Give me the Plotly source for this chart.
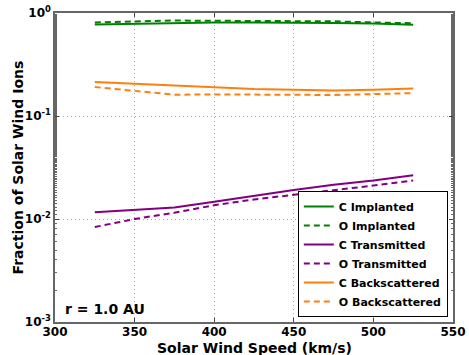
import plotly.graph_objects as go

speed = [325, 350, 375, 400, 425, 450, 475, 500, 525]
c_implanted = [0.775, 0.79, 0.80, 0.81, 0.81, 0.81, 0.80, 0.79, 0.77]
o_implanted = [0.81, 0.83, 0.845, 0.84, 0.84, 0.835, 0.83, 0.81, 0.795]
c_transmitted = [0.0116, 0.0123, 0.0129, 0.0147, 0.0168, 0.0191, 0.0215, 0.0236, 0.0266]
o_transmitted = [0.00835, 0.0100, 0.0115, 0.0136, 0.0155, 0.0171, 0.0190, 0.0211, 0.0236]
c_backscattered = [0.214, 0.205, 0.198, 0.19, 0.183, 0.18, 0.177, 0.18, 0.185]
o_backscattered = [0.191, 0.175, 0.161, 0.162, 0.162, 0.162, 0.16, 0.163, 0.167]

xticks = [300, 350, 400, 450, 500, 550]
yticks = [1e-3, 1e-2, 1e-1, 1]
yticklabels = ["10<sup>-3</sup>", "10<sup>-2</sup>", "10<sup>-1</sup>", "10<sup>0</sup>"]

GREEN = "#008000"
PURPLE = "#800080"
ORANGE = "#FF7F0E"

series = [
    ("C Implanted", c_implanted, GREEN, "solid"),
    ("O Implanted", o_implanted, GREEN, "6px,4px"),
    ("C Transmitted", c_transmitted, PURPLE, "solid"),
    ("O Transmitted", o_transmitted, PURPLE, "6px,4px"),
    ("C Backscattered", c_backscattered, ORANGE, "solid"),
    ("O Backscattered", o_backscattered, ORANGE, "6px,4px"),
]

fig = go.Figure()
for name, vals, col, dash in series:
    fig.add_trace(go.Scatter(x=speed, y=vals, mode="lines", name=name,
                             line=dict(color=col, width=2, dash=dash)))

fig.update_layout(
    width=469, height=355,
    margin=dict(l=55, r=16, t=13, b=33, autoexpand=False),
    plot_bgcolor="white", paper_bgcolor="white",
    font=dict(family="DejaVu Sans", size=11, color="black", weight="bold"),
    showlegend=True,
    legend=dict(x=0.987, y=0.016, xanchor="right", yanchor="bottom",
                bordercolor="black", borderwidth=1, bgcolor="white",
                font=dict(size=11, weight="bold"), tracegroupgap=0,
                itemwidth=30),
    xaxis=dict(range=[300, 550], tickvals=xticks, ticks="inside", ticklen=4,
               showline=True, mirror="allticks", linecolor="#666", linewidth=1.5,
               showgrid=True, gridcolor="#aaa", griddash="1px,3px", gridwidth=1,
               zeroline=False, automargin=False, ticklabelstandoff=-2,
               tickfont=dict(size=12, weight="bold")),
    yaxis=dict(type="log", range=[-3, 0], tickvals=yticks, ticktext=yticklabels,
               ticks="inside", ticklen=4,
               showline=True, mirror="allticks", linecolor="#666", linewidth=1.5,
               showgrid=True, gridcolor="#aaa", griddash="1px,3px", gridwidth=1,
               zeroline=False, automargin=False,
               minor=dict(ticks="inside", ticklen=2, tickcolor="#666", showgrid=False),
               tickfont=dict(size=12, weight="bold")),
)
fig.add_annotation(x=0.5, y=-0.085, xref="paper", yref="paper",
                   xanchor="center", yanchor="middle", showarrow=False,
                   text="Solar Wind Speed (km/s)", font=dict(size=14, weight="bold"))
fig.add_annotation(x=-0.093, y=0.5, xref="paper", yref="paper",
                   xanchor="center", yanchor="middle", showarrow=False, textangle=-90,
                   text="Fraction of Solar Wind Ions", font=dict(size=14, weight="bold"))
fig.add_annotation(x=0.02, y=0.01, xref="paper", yref="paper",
                   xanchor="left", yanchor="bottom", showarrow=False,
                   text="r = 1.0 AU", font=dict(size=14, weight="bold"))

fig.write_html("out.html")
